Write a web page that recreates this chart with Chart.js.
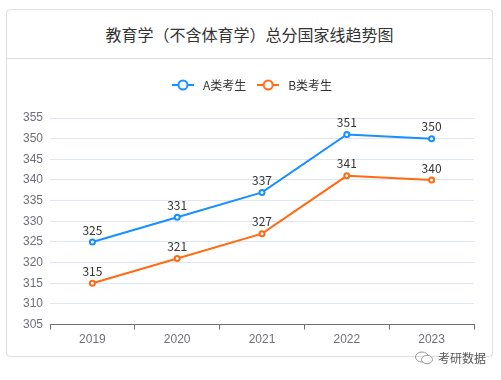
<!DOCTYPE html>
<html>
<head>
<meta charset="utf-8">
<script src="https://cdn.jsdelivr.net/npm/chart.js@4.4.1/dist/chart.umd.min.js"></script>
<style>
  body { margin: 0; width: 501px; height: 380px; background: #fff; position: relative; overflow: hidden;
         font-family: "Noto Sans CJK SC", "Noto Sans", sans-serif; }
  #card { position: absolute; left: 6px; top: 9px; width: 487px; height: 348px;
          border: 1px solid #dcdfe6; border-radius: 4px; box-sizing: border-box; }
  #title { height: 49px; line-height: 48px; text-align: center; font-size: 16px; color: #333;
           border-bottom: 1px solid #dcdfe6; box-sizing: border-box; }
  #wrap { position: absolute; left: 0; top: 60px; width: 501px; height: 290px; }
  #mark { position: absolute; left: 414px; top: 349px; font-size: 12px; color: #555;
          text-shadow: 0 0 2px #fff, 0 0 2px #fff; display: flex; align-items: center; gap: 4px; }
</style>
</head>
<body>
<div id="card"><div id="title">教育学（不含体育学）总分国家线趋势图</div></div>
<div id="wrap"><canvas id="chart"></canvas></div>
<div id="mark">
  <svg width="20" height="14" viewBox="0 0 20 14"><ellipse cx="8" cy="6" rx="6.5" ry="5" fill="none" stroke="#999" stroke-width="1"/><ellipse cx="13" cy="8.5" rx="5.5" ry="4.2" fill="#fff" stroke="#999" stroke-width="1"/></svg>
  <span>考研数据</span>
</div>
<script>
const years = ["2019", "2020", "2021", "2022", "2023"];
const seriesA = [325, 331, 337, 351, 350];
const seriesB = [315, 321, 327, 341, 340];
const A_COLOR = "#1890ff";
const B_COLOR = "#ff6a13";

// small line + circle icon for the legend
const makeIcon = (color) => {
    const c = document.createElement("canvas");
    c.width = 22; c.height = 14;
    const ctx = c.getContext("2d");
    ctx.strokeStyle = color;
    ctx.lineWidth = 2;
    ctx.beginPath(); ctx.moveTo(0, 7); ctx.lineTo(22, 7); ctx.stroke();
    ctx.fillStyle = "#fff";
    ctx.beginPath(); ctx.arc(11, 7, 4.5, 0, Math.PI * 2); ctx.fill(); ctx.stroke();
    return c;
};

// values above each point
const valueLabels = {
    id: "valueLabels",
    afterDatasetsDraw(chart) {
        const ctx = chart.ctx;
        ctx.save();
        ctx.font = "12px 'Noto Sans CJK SC', 'Noto Sans', sans-serif";
        ctx.fillStyle = "#333";
        ctx.textAlign = "center";
        ctx.textBaseline = "bottom";
        chart.data.datasets.forEach((ds, i) => {
            chart.getDatasetMeta(i).data.forEach((pt, j) => {
                ctx.fillText(ds.data[j], pt.x, pt.y - 6);
            });
        });
        ctx.restore();
    }
};

// more room under the legend, and center it on the whole card
const legendGap = {
    id: "legendGap",
    beforeInit(chart) {
        const fit = chart.legend.fit;
        chart.legend.fit = function () {
            fit.bind(chart.legend)();
            this.height += 17;
        };
    },
    afterLayout(chart) {
        chart.legend.right += 27;
    }
};

const lineSet = (label, data, color) => ({
    label: label, data: data, borderColor: color, backgroundColor: color,
    borderWidth: 2, pointRadius: 2.5, pointBorderWidth: 2,
    pointBackgroundColor: "#fff", pointBorderColor: color,
    pointStyle: "circle", tension: 0
});

const chart = new Chart(document.getElementById("chart").getContext("2d"), {
    type: "line",
    data: {
        labels: years,
        datasets: [lineSet("A类考生", seriesA, A_COLOR), lineSet("B类考生", seriesB, B_COLOR)]
    },
    options: {
        responsive: true, maintainAspectRatio: false, animation: false,
        layout: { padding: { left: 0, right: 27, top: 11, bottom: 0 } },
        plugins: {
            legend: {
                labels: {
                    usePointStyle: true, pointStyleWidth: 28, boxHeight: 12,
                    color: "#333", font: { size: 12, family: "'Noto Sans CJK SC', 'Noto Sans', sans-serif" },
                    padding: 8,
                    generateLabels: (c) => c.data.datasets.map((ds, i) => ({
                        text: ds.label, pointStyle: makeIcon(ds.borderColor),
                        fillStyle: ds.borderColor, strokeStyle: ds.borderColor,
                        lineWidth: 0, hidden: false, datasetIndex: i, fontColor: "#333"
                    }))
                }
            },
            tooltip: { enabled: false }
        },
        scales: {
            x: {
                offset: true,
                grid: { drawOnChartArea: false, drawTicks: true, tickLength: 5, color: "#6e7079", offset: true },
                border: { color: "#6e7079", width: 1 },
                ticks: { color: "#6e7079", font: { size: 12 }, padding: 3 }
            },
            y: {
                min: 305, max: 355,
                afterFit: (s) => { s.width = 50; },
                grid: { color: "#e0e6f1", drawTicks: false },
                border: { display: false },
                ticks: { stepSize: 5, color: "#6e7079", font: { size: 12 }, padding: 7 }
            }
        }
    },
    plugins: [valueLabels, legendGap]
});
</script>
</body>
</html>
